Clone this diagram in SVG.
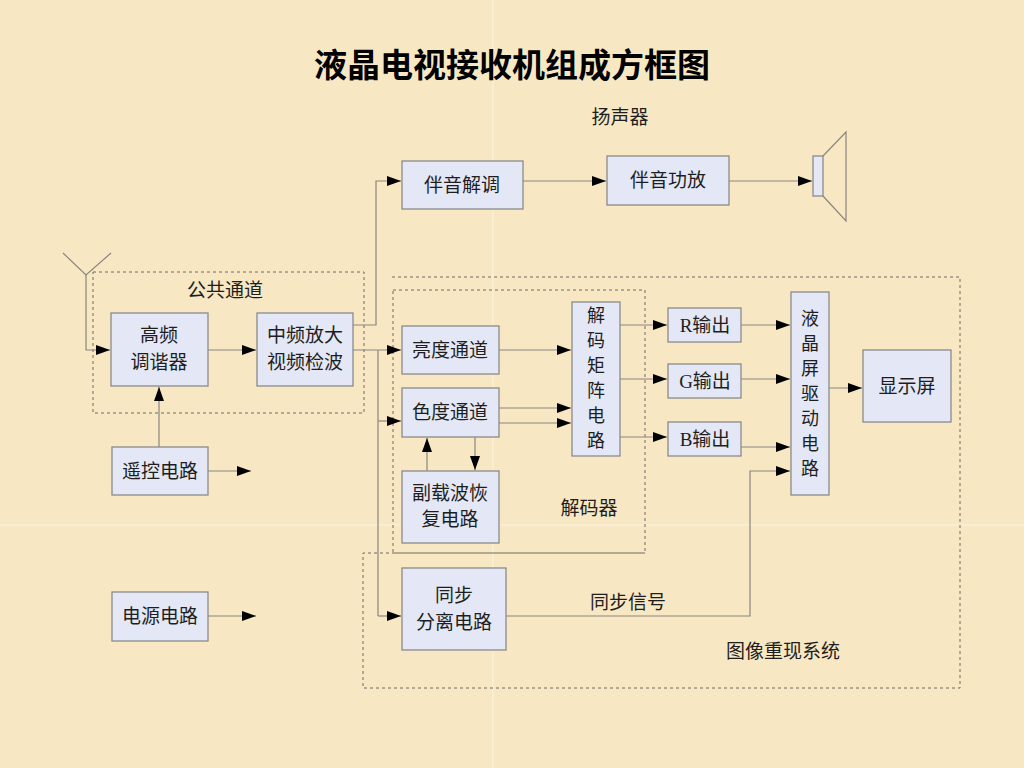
<svg xmlns="http://www.w3.org/2000/svg" width="1024" height="768" viewBox="0 0 1024 768">
<defs>
<style>
.bx{fill:#E4E8F6;stroke:#8A8A8A;stroke-width:1.3}
.ln{fill:none;stroke:#8A8580;stroke-width:1.2}
.ar{fill:none;stroke:#8A8580;stroke-width:1.2;marker-end:url(#a)}
.ds{fill:none;stroke:#6E6A66;stroke-width:1;stroke-dasharray:3,3}
.t{font-family:"Noto Sans CJK SC","Liberation Serif",sans-serif;font-size:19px;fill:#1E1E1E;text-anchor:middle}
.tv{font-family:"Noto Sans CJK SC",sans-serif;font-size:18px;fill:#1E1E1E;text-anchor:middle}
.tl{font-family:"Liberation Serif","Noto Sans CJK SC",serif;font-size:19px;fill:#1E1E1E;text-anchor:middle}
.ttl{font-family:"Noto Sans CJK SC",sans-serif;font-size:33px;font-weight:bold;fill:#000;text-anchor:middle}
</style>
<marker id="a" viewBox="0 0 14 10" refX="14" refY="5" markerWidth="14" markerHeight="10" markerUnits="userSpaceOnUse" orient="auto">
<path d="M0,0 L14,5 L0,10 z" fill="#000"/>
</marker>
</defs>
<rect width="1024" height="768" fill="#F7E7C3"/>
<g stroke="#FBF3E0" stroke-width="1.5" opacity="0.8">
<line x1="493" y1="0" x2="493" y2="768"/>
<line x1="0" y1="525" x2="1024" y2="525"/>
</g>

<text class="ttl" x="512" y="77">液晶电视接收机组成方框图</text>

<g id="regions">
<rect class="ds" x="93" y="272" width="271" height="141"/>
<rect class="ds" x="393" y="290" width="252" height="263"/>
<path class="ds" d="M392,277 H960 V688 H363 V553 H645"/>
<text class="t" x="225" y="297">公共通道</text>
<text class="t" x="589" y="515">解码器</text>
<text class="t" x="783" y="658">图像重现系统</text>
<text class="t" x="620" y="124">扬声器</text>
<text class="t" x="628" y="609">同步信号</text>
</g>

<g id="connectors">
<polyline class="ln" points="63,253 86,275 111,253"/>
<polyline class="ar" points="86,275 86,350 110,350"/>
<line class="ar" x1="208" y1="350" x2="256" y2="350"/>
<line class="ar" x1="159" y1="447" x2="159" y2="387"/>
<line class="ar" x1="208" y1="471" x2="251" y2="471"/>
<line class="ar" x1="208" y1="616" x2="256" y2="616"/>
<polyline class="ar" points="353,325 376,325 376,181 401,181"/>
<line class="ar" x1="523" y1="181" x2="606" y2="181"/>
<line class="ar" x1="729" y1="181" x2="812" y2="181"/>
<line class="ar" x1="353" y1="350" x2="401" y2="350"/>
<polyline class="ln" points="378,350 378,616"/>
<line class="ar" x1="378" y1="421" x2="401" y2="421"/>
<line class="ar" x1="378" y1="616" x2="401" y2="616"/>
<line class="ar" x1="499" y1="350" x2="571" y2="350"/>
<line class="ar" x1="499" y1="408" x2="571" y2="408"/>
<line class="ar" x1="499" y1="423" x2="571" y2="423"/>
<line class="ar" x1="427" y1="471" x2="427" y2="438"/>
<line class="ar" x1="475" y1="437" x2="475" y2="470"/>
<line class="ar" x1="620" y1="325" x2="667" y2="325"/>
<line class="ar" x1="620" y1="379" x2="667" y2="379"/>
<line class="ar" x1="620" y1="437" x2="667" y2="437"/>
<line class="ar" x1="741" y1="325" x2="790" y2="325"/>
<line class="ar" x1="741" y1="379" x2="790" y2="379"/>
<line class="ar" x1="741" y1="447" x2="790" y2="447"/>
<polyline class="ar" points="506,616 750,616 750,471 790,471"/>
<line class="ar" x1="829" y1="388" x2="862" y2="388"/>
</g>

<g id="n-gaopin"><rect class="bx" x="111" y="313" width="97" height="73"/><text class="t" x="159" y="342">高频</text><text class="t" x="159" y="369">调谐器</text></g>
<g id="n-zhongpin"><rect class="bx" x="257" y="313" width="96" height="73"/><text class="t" x="305" y="342">中频放大</text><text class="t" x="305" y="369">视频检波</text></g>
<g id="n-yaokong"><rect class="bx" x="112" y="447" width="96" height="48"/><text class="t" x="160" y="478">遥控电路</text></g>
<g id="n-dianyuan"><rect class="bx" x="112" y="592" width="96" height="49"/><text class="t" x="160" y="623">电源电路</text></g>
<g id="n-banyinjietiao"><rect class="bx" x="402" y="161" width="121" height="48"/><text class="t" x="462" y="192">伴音解调</text></g>
<g id="n-banyingongfang"><rect class="bx" x="607" y="156" width="122" height="49"/><text class="t" x="668" y="187">伴音功放</text></g>
<g id="n-speaker"><rect class="bx" x="813" y="156" width="10" height="40"/><polyline class="ln" points="823,156 846,132 846,221 823,196"/></g>
<g id="n-liangdu"><rect class="bx" x="402" y="326" width="97" height="48"/><text class="t" x="450" y="357">亮度通道</text></g>
<g id="n-sedu"><rect class="bx" x="402" y="388" width="97" height="49"/><text class="t" x="450" y="419">色度通道</text></g>
<g id="n-fuzaibo"><rect class="bx" x="402" y="471" width="97" height="72"/><text class="t" x="450" y="500">副载波恢</text><text class="t" x="450" y="526">复电路</text></g>
<g id="n-jiemajuzhen"><rect class="bx" x="572" y="302" width="48" height="154"/>
<text class="tv" x="596" y="322">解</text><text class="tv" x="596" y="347">码</text><text class="tv" x="596" y="372">矩</text><text class="tv" x="596" y="397">阵</text><text class="tv" x="596" y="422">电</text><text class="tv" x="596" y="447">路</text></g>
<g id="n-R"><rect class="bx" x="668" y="308" width="73" height="34"/><text class="tl" x="705" y="332">R输出</text></g>
<g id="n-G"><rect class="bx" x="668" y="364" width="73" height="34"/><text class="tl" x="705" y="388">G输出</text></g>
<g id="n-B"><rect class="bx" x="668" y="422" width="73" height="34"/><text class="tl" x="705" y="446">B输出</text></g>
<g id="n-qudong"><rect class="bx" x="791" y="292" width="38" height="203"/>
<text class="tv" x="810" y="325">液</text><text class="tv" x="810" y="350">晶</text><text class="tv" x="810" y="375">屏</text><text class="tv" x="810" y="400">驱</text><text class="tv" x="810" y="425">动</text><text class="tv" x="810" y="450">电</text><text class="tv" x="810" y="475">路</text></g>
<g id="n-xianshiping"><rect class="bx" x="863" y="350" width="88" height="72"/><text class="t" x="907" y="393">显示屏</text></g>
<g id="n-tongbu"><rect class="bx" x="402" y="568" width="104" height="82"/><text class="t" x="454" y="602">同步</text><text class="t" x="454" y="629">分离电路</text></g>
</svg>
